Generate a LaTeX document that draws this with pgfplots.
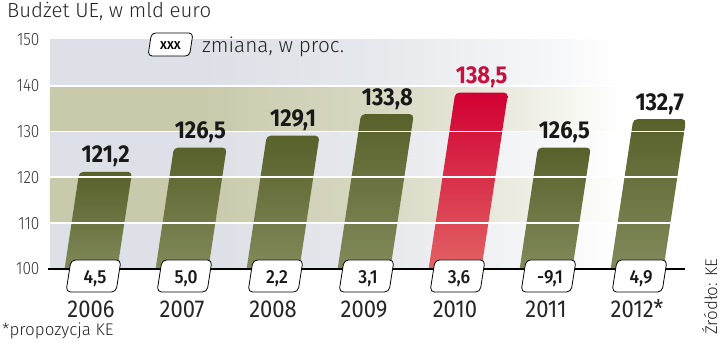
\documentclass[border=0pt]{standalone}
\usepackage{fontspec}
\usepackage{pgfplots}
\pgfplotsset{compat=1.18}
\setmainfont{Fira Sans Light}
\newfontfamily\flight{Fira Sans Light}[FakeStretch=0.86]
\newfontfamily\freg{Fira Sans}[FakeStretch=0.9]
\newfontfamily\fmed{Fira Sans Medium}[FakeStretch=0.92]
\newfontfamily\fbold{Fira Sans Bold}[FakeStretch=0.9]
\definecolor{bandG}{HTML}{DDE0E6}
\definecolor{bandO}{HTML}{C9CAAC}
\definecolor{oliveT}{HTML}{58612A}
\definecolor{oliveB}{HTML}{868E60}
\definecolor{redT}{HTML}{D10032}
\definecolor{redB}{HTML}{E36A68}
\definecolor{redL}{HTML}{C8103E}
\pgfdeclarehorizontalshading{fadeG}{100bp}{color(0bp)=(bandG); color(37bp)=(bandG); color(50bp)=(bandG!75!white); color(62bp)=(bandG!35!white); color(70bp)=(white); color(100bp)=(white)}
\pgfdeclarehorizontalshading{fadeO}{100bp}{color(0bp)=(bandO); color(37bp)=(bandO); color(50bp)=(bandO!75!white); color(62bp)=(bandO!35!white); color(70bp)=(white); color(100bp)=(white)}
\begin{document}
\begin{tikzpicture}
\useasboundingbox (-50bp,-74bp) rectangle (670bp,269bp);
\begin{axis}[
  at={(0,0)}, anchor=south west,
  scale only axis, width=635bp, height=229bp,
  xmin=-0.4505, xmax=6.527, ymin=100, ymax=150,
  axis line style={draw=none},
  major tick length=0pt,
  ytick={100,110,...,150},
  xtick={0,1,2,3,4,5,6},
  xticklabels={2006,2007,2008,2009,2010,2011,2012*},
  yticklabel style={font=\flight\fontsize{18}{18}\selectfont, anchor=east, xshift=-7bp, text=black!80},
  xticklabel style={font=\freg\fontsize{24.5}{24.5}\selectfont, anchor=base, yshift=-48bp, text=black!85},
  /pgf/number format/assume math mode=true,
  clip mode=individual,
]
% background bands
\shade[shading=fadeG] (axis cs:-0.4505,100) rectangle (axis cs:6.527,110);
\shade[shading=fadeO] (axis cs:-0.4505,110) rectangle (axis cs:6.527,120);
\shade[shading=fadeG] (axis cs:-0.4505,120) rectangle (axis cs:6.527,130);
\shade[shading=fadeO] (axis cs:-0.4505,130) rectangle (axis cs:6.527,140);
\shade[shading=fadeG] (axis cs:-0.4505,140) rectangle (axis cs:6.527,150);
% bars (slanted)
\addplot[draw=none, top color=oliveT, bottom color=oliveB, rounded corners=4bp] coordinates {(-0.313,97) (0.267,97) (0.451,121.2) (-0.129,121.2)} -- cycle;
\addplot[draw=none, top color=oliveT, bottom color=oliveB, rounded corners=4bp] coordinates {(0.687,97) (1.267,97) (1.491,126.5) (0.911,126.5)} -- cycle;
\addplot[draw=none, top color=oliveT, bottom color=oliveB, rounded corners=4bp] coordinates {(1.687,97) (2.267,97) (2.511,129.1) (1.931,129.1)} -- cycle;
\addplot[draw=none, top color=oliveT, bottom color=oliveB, rounded corners=4bp] coordinates {(2.687,97) (3.267,97) (3.547,133.8) (2.967,133.8)} -- cycle;
\addplot[draw=none, top color=redT, bottom color=redB, rounded corners=4bp] coordinates {(3.687,97) (4.267,97) (4.583,138.5) (4.003,138.5)} -- cycle;
\addplot[draw=none, top color=oliveT, bottom color=oliveB, rounded corners=4bp] coordinates {(4.687,97) (5.267,97) (5.491,126.5) (4.911,126.5)} -- cycle;
\addplot[draw=none, top color=oliveT, bottom color=oliveB, rounded corners=4bp] coordinates {(5.687,97) (6.267,97) (6.539,132.7) (5.959,132.7)} -- cycle;
% white grid lines
\pgfplotsinvokeforeach{110,120,130,140}{\draw[white, line width=1.8bp] (axis cs:-0.4505,#1) -- (axis cs:6.527,#1);}
% axis line
\draw[black, line width=1.4bp] (axis cs:-0.47,100) -- (axis cs:6.527,100);
% value labels
\addplot[draw=none, mark=none, nodes near coords, point meta=explicit symbolic,
  every node near coord/.append style={font=\fbold\fontsize{24.5}{24.5}\selectfont, anchor=base, yshift=9bp, inner sep=0pt, text=black!90}]
  coordinates {(0.161,121.2)[121,2] (1.201,126.5)[126,5] (2.221,129.1)[129,1] (3.257,133.8)[133,8] (5.201,126.5)[126,5] (6.249,132.7)[132,7]};
\addplot[draw=none, mark=none, nodes near coords, point meta=explicit symbolic,
  every node near coord/.append style={font=\fbold\fontsize{24.5}{24.5}\selectfont, anchor=base, yshift=9bp, inner sep=0pt, text=redL}]
  coordinates {(4.293,138.5)[138,5]};
% percent-change boxes
\pgfplotsinvokeforeach{0,...,6}{\draw[fill=white, line width=0.8bp, rounded corners=4.5bp, shift={(axis cs:#1,100)}] (-25bp,-23bp) -- (25bp,-23bp) -- (30bp,9bp) -- (-20bp,9bp) -- cycle;}
\addplot[draw=none, mark=none, nodes near coords, point meta=explicit symbolic,
  every node near coord/.append style={font=\fmed\fontsize{19}{19}\selectfont, anchor=base, xshift=4bp, yshift=-14bp, inner sep=0pt, text=black!90}]
  coordinates {(0,100)[4,5] (1,100)[5,0] (2,100)[2,2] (3,100)[3,1] (4,100)[3,6] (5,100)[-9,1] (6,100)[4,9]};
\end{axis}
% title
\node[anchor=base west, inner sep=0pt, font=\fontsize{20.5}{20.5}\selectfont, text=black!85] at (-43bp,251bp) {Budżet UE, w mld euro};
% legend
\draw[fill=white, line width=0.8bp, rounded corners=4bp] (98bp,213bp) -- (139.5bp,213bp) -- (143bp,236bp) -- (101.5bp,236bp) -- cycle;
\node[font=\fmed\fontsize{15}{15}\selectfont, inner sep=0pt, anchor=base] at (120.5bp,219bp) {xxx};
\node[anchor=base west, inner sep=0pt, font=\fontsize{20.8}{20.8}\selectfont, text=black!85] at (152bp,216bp) {zmiana, w proc.};
% footer
\node[anchor=base west, inner sep=0pt, font=\fontsize{17}{17}\selectfont, text=black!85] at (-48bp,-66bp) {*propozycja KE};
\node[anchor=base west, rotate=90, inner sep=0pt, font=\fontsize{17}{17}\selectfont, text=black!85] at (667bp,-66bp) {Źródło: KE};
\end{tikzpicture}
\end{document}
